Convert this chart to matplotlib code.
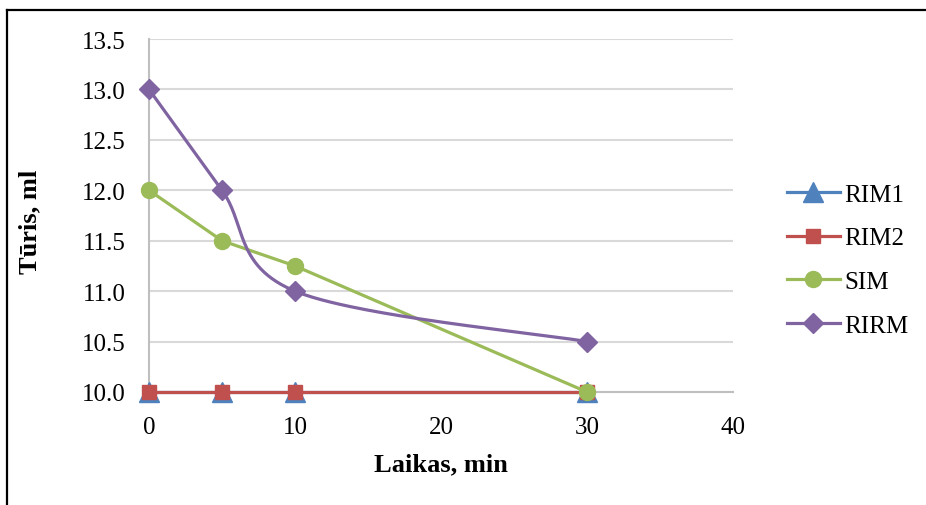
import numpy as np
import matplotlib.pyplot as plt
from matplotlib.lines import Line2D

plt.rcParams['font.family'] = ['Liberation Serif', 'DejaVu Serif']

# sampling times, min
time = [0, 5, 10, 30]

# volume per method, ml
rim1 = [10.0, 10.0, 10.0, 10.0]
rim2 = [10.0, 10.0, 10.0, 10.0]
sim = [12.0, 11.5, 11.25, 10.0]
rirm = [13.0, 12.0, 11.0, 10.5]

x_ticks = [0, 10, 20, 30, 40]
y_ticks = [10.0, 10.5, 11.0, 11.5, 12.0, 12.5, 13.0, 13.5]


def smooth_curve(x, y, n=60):
    """Spreadsheet-style smoothed line: cubic Bezier segments with
    control points taken from neighbouring points (tension 1/6)."""
    p = np.column_stack([x, y]).astype(float)
    pts = []
    for i in range(len(p) - 1):
        p_prev = p[max(i - 1, 0)]
        p_next = p[min(i + 2, len(p) - 1)]
        c1 = p[i] + (p[i + 1] - p_prev) / 6.0
        c2 = p[i + 1] - (p_next - p[i]) / 6.0
        t = np.linspace(0, 1, n)[:, None]
        seg = ((1 - t) ** 3 * p[i] + 3 * (1 - t) ** 2 * t * c1
               + 3 * (1 - t) * t ** 2 * c2 + t ** 3 * p[i + 1])
        pts.append(seg if i == 0 else seg[1:])
    pts = np.vstack(pts)
    return pts[:, 0], pts[:, 1]


fig = plt.figure(figsize=(9.26, 5.06), dpi=100)
ax = fig.add_axes([149 / 926, 1 - 393 / 506, 584 / 926, 353 / 506])

ax.set_xlim(0, 40)
ax.set_ylim(10.0, 13.5)
ax.set_xticks(x_ticks)
ax.set_yticks(y_ticks)
ax.set_yticklabels(['%.1f' % v for v in y_ticks])
ax.tick_params(length=0, labelsize=18)
ax.tick_params(axis='x', pad=17)
ax.tick_params(axis='y', pad=17)

ax.grid(axis='y', color='#D9D9D9', lw=1.5)
ax.set_axisbelow(True)
for s in ['top', 'right']:
    ax.spines[s].set_visible(False)
for s in ['left', 'bottom']:
    ax.spines[s].set_color('#BFBFBF')
    ax.spines[s].set_linewidth(1.5)

lw = 2.3
styles = {
    'RIM1': dict(color='#4F81BD', marker='^', ms=14.5),
    'RIM2': dict(color='#C0504D', marker='s', ms=9.5),
    'SIM': dict(color='#9BBB59', marker='o', ms=11.5),
    'RIRM': dict(color='#8064A2', marker='D', ms=10.5),
}

ax.plot(time, rim1, lw=lw, clip_on=False, zorder=3, **styles['RIM1'])
ax.plot(time, rim2, lw=lw, clip_on=False, zorder=4, **styles['RIM2'])
ax.plot(time, sim, lw=lw, clip_on=False, zorder=5, **styles['SIM'])
sx, sy = smooth_curve(time, rirm)
ax.plot(sx, sy, color=styles['RIRM']['color'], lw=lw, clip_on=False, zorder=6)
ax.plot(time, rirm, lw=0, clip_on=False, zorder=6, **styles['RIRM'])

names = ['RIM1', 'RIM2', 'SIM', 'RIRM']
handles = [Line2D([], [], lw=lw, **styles[n]) for n in names]
fig.legend(handles, names, loc='center left',
           bbox_to_anchor=(787 / 926, 1 - 261 / 506), frameon=False,
           fontsize=18, handlelength=2.1, handletextpad=0.2,
           labelspacing=0.85, borderpad=0, borderaxespad=0)

ax.set_xlabel('Laikas, min', fontsize=19, fontweight='bold')
ax.xaxis.set_label_coords(0.5, (393 - 465) / 353)
ax.xaxis.label.set_va('center')
ax.set_ylabel('Tūris, ml', fontsize=19, fontweight='bold')
ax.yaxis.set_label_coords((30 - 149) / 584, (393 - 222) / 353)
ax.yaxis.label.set_va('center')

# chart frame: top and left edges
top = 1 - 11 / 506
left = 7 / 926
fig.add_artist(Line2D([left, 1.0], [top, top], color='black', lw=1.6,
                      transform=fig.transFigure))
fig.add_artist(Line2D([left, left], [top, 0.0], color='black', lw=1.6,
                      transform=fig.transFigure))

fig.savefig('out.png', dpi=100)
